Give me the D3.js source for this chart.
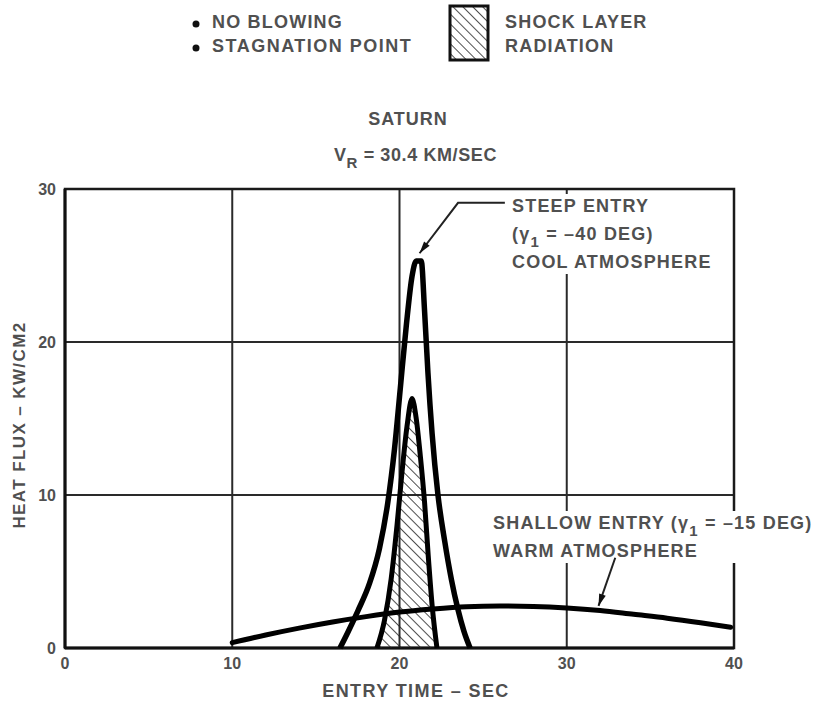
<!DOCTYPE html>
<html>
<head>
<meta charset="utf-8">
<script src="https://cdn.jsdelivr.net/npm/d3@7"></script>
<style>
  body { margin: 0; background: #fff; }
  text { font-family: "Liberation Sans", Arial, sans-serif; fill: #505050; font-weight: bold; }
</style>
</head>
<body>
<div id="chart"></div>
<script>
// axis ticks
var xTicks = [0, 10, 20, 30, 40];
var yTicks = [0, 10, 20, 30];

// shallow entry, warm atmosphere
var shallowTime = [10, 12, 14, 16, 18, 20, 22, 24, 26, 28, 30, 32, 34, 36, 38, 39.8];
var shallowFlux = [0.35, 0.85, 1.3, 1.7, 2.05, 2.35, 2.55, 2.7, 2.75, 2.72, 2.62, 2.45, 2.2, 1.95, 1.65, 1.35];

// steep entry, cool atmosphere (total)
var steepTime = [16.44, 16.9, 17.5, 18.2, 18.8, 19.3, 19.7, 20.05, 20.4, 20.75, 21.0, 21.3, 21.5, 21.7, 21.95, 22.3, 22.7, 23.1, 23.5, 23.85, 24.22];
var steepFlux = [0, 1.0, 2.4, 4.2, 6.5, 9.5, 13, 17, 21, 24.3, 25.3, 25.3, 22, 18, 14, 10, 7, 4.5, 2.5, 1.1, 0];

// shock layer radiation (hatched)
var radTime = [18.65, 19.1, 19.5, 19.85, 20.15, 20.45, 20.75, 21.0, 21.25, 21.5, 21.72, 21.95, 22.24];
var radFlux = [0, 1.8, 4.5, 8, 11.5, 14.5, 16.3, 15, 12.5, 9.5, 6, 2.8, 0];

var width = 827, height = 701;
var svg = d3.select("#chart").append("svg")
    .attr("width", width)
    .attr("height", height);

var x = d3.scaleLinear().domain([0, 40]).range([65, 734]);
var y = d3.scaleLinear().domain([0, 30]).range([648, 189]);

// hatch pattern
svg.append("defs").append("pattern")
    .attr("id", "hatch")
    .attr("patternUnits", "userSpaceOnUse")
    .attr("width", 7).attr("height", 7)
    .attr("patternTransform", "rotate(-45)")
  .append("line")
    .attr("x1", 0).attr("y1", 0).attr("x2", 0).attr("y2", 7)
    .attr("stroke", "#222").attr("stroke-width", 1.6);

// legend
var legend = svg.append("g");
legend.selectAll("circle").data([24, 48]).enter().append("circle")
    .attr("cx", 196).attr("cy", d => d).attr("r", 3.5).attr("fill", "#111");
legend.append("text").attr("x", 212).attr("y", 28).attr("font-size", 18).attr("letter-spacing", 1.2).text("NO BLOWING");
legend.append("text").attr("x", 212).attr("y", 52).attr("font-size", 18).attr("letter-spacing", 1.5).text("STAGNATION POINT");
legend.append("rect").attr("x", 450).attr("y", 6).attr("width", 38).attr("height", 54)
    .attr("fill", "url(#hatch)").attr("stroke", "#111").attr("stroke-width", 3);
legend.append("text").attr("x", 505).attr("y", 28).attr("font-size", 18).attr("letter-spacing", 1.2).text("SHOCK LAYER");
legend.append("text").attr("x", 505).attr("y", 52).attr("font-size", 18).attr("letter-spacing", 1.2).text("RADIATION");

// title
svg.append("text").attr("x", 408).attr("y", 125).attr("text-anchor", "middle")
    .attr("font-size", 18).attr("letter-spacing", 1).text("SATURN");
var vr = svg.append("text").attr("x", 334).attr("y", 161).attr("font-size", 18).attr("letter-spacing", 0.6);
vr.append("tspan").text("V");
vr.append("tspan").attr("dy", 7).attr("font-size", 15).text("R");
vr.append("tspan").attr("dy", -7).text(" = 30.4 KM/SEC");

// grid
var grid = svg.append("g").attr("stroke", "#2a2a2a").attr("stroke-width", 2);
grid.selectAll(".vx").data(xTicks.slice(1, -1)).enter().append("line")
    .attr("x1", d => x(d)).attr("x2", d => x(d))
    .attr("y1", y(0)).attr("y2", y(30));
grid.selectAll(".hy").data(yTicks.slice(1, -1)).enter().append("line")
    .attr("x1", x(0)).attr("x2", x(40))
    .attr("y1", d => y(d)).attr("y2", d => y(d));
svg.append("rect")
    .attr("x", x(0)).attr("y", y(30))
    .attr("width", x(40) - x(0)).attr("height", y(0) - y(30))
    .attr("fill", "none").attr("stroke", "#1a1a1a").attr("stroke-width", 2.5);
svg.append("line").attr("x1", x(0)).attr("x2", x(0)).attr("y1", y(0)).attr("y2", y(30))
    .attr("stroke", "#111").attr("stroke-width", 3);
svg.append("line").attr("x1", x(0)).attr("x2", x(40)).attr("y1", y(0)).attr("y2", y(0))
    .attr("stroke", "#111").attr("stroke-width", 3);

// tick labels
svg.selectAll(".xt").data(xTicks).enter().append("text")
    .attr("x", d => x(d)).attr("y", 669).attr("text-anchor", "middle")
    .attr("font-size", 16).attr("font-weight", "normal").text(d => d);
svg.selectAll(".yt").data(yTicks).enter().append("text")
    .attr("x", 56).attr("y", d => y(d) + 6).attr("text-anchor", "end")
    .attr("font-size", 16).attr("font-weight", "normal").text(d => d);

// axis titles
svg.append("text").attr("x", 416).attr("y", 697).attr("text-anchor", "middle")
    .attr("font-size", 18).attr("letter-spacing", 1.4).text("ENTRY TIME \u2013 SEC");
svg.append("text").attr("transform", "translate(25,425) rotate(-90)").attr("text-anchor", "middle")
    .attr("font-size", 17).attr("letter-spacing", 1.4).text("HEAT FLUX \u2013 KW/CM2");

// curves
var line = d3.line().x(d => x(d[0])).y(d => y(d[1])).curve(d3.curveMonotoneX);
var zip = (a, b) => a.map((d, i) => [d, b[i]]);

svg.append("path").datum(zip(radTime, radFlux))
    .attr("d", line).attr("fill", "url(#hatch)")
    .attr("stroke", "#000").attr("stroke-width", 5).attr("stroke-linejoin", "round");
svg.append("path").datum(zip(steepTime, steepFlux))
    .attr("d", line).attr("fill", "none")
    .attr("stroke", "#000").attr("stroke-width", 5.5).attr("stroke-linejoin", "round");
svg.append("path").datum(zip(shallowTime, shallowFlux))
    .attr("d", line).attr("fill", "none")
    .attr("stroke", "#000").attr("stroke-width", 5).attr("stroke-linecap", "round");

// annotation with a white box behind it
function note(x0, y0, lines, size) {
  var g = svg.append("g");
  var bg = g.append("rect").attr("fill", "#fff");
  var t = g.append("text").attr("font-size", size).attr("letter-spacing", 1.2);
  lines.forEach(function(l, i) {
    var row = t.append("tspan").attr("x", x0).attr("y", y0 + i * 28);
    l.forEach(function(p) {
      var s = row.append("tspan").text(p.t);
      if (p.sub) s.attr("dy", 7).attr("font-size", size - 3);
      if (p.up) s.attr("dy", -7);
    });
  });
  var b = t.node().getBBox();
  bg.attr("x", b.x - 5).attr("y", b.y - 2).attr("width", b.width + 10).attr("height", b.height + 4);
}

note(512, 212, [
  [{t: "STEEP ENTRY"}],
  [{t: "(\u03b3"}, {t: "1", sub: true}, {t: " = \u201340 DEG)", up: true}],
  [{t: "COOL ATMOSPHERE"}]
], 18);

note(493, 529, [
  [{t: "SHALLOW ENTRY ("}, {t: "\u03b3"}, {t: "1", sub: true}, {t: " = \u201315 DEG)", up: true}],
  [{t: "WARM ATMOSPHERE"}]
], 18);

// leaders
var leaderSteep = [[21.2, 25.8], [23.5, 29.1], [26.3, 29.1]];
var leaderShallow = [[32.9, 5.9], [31.9, 2.75]];
var straight = d3.line().x(d => x(d[0])).y(d => y(d[1]));

svg.append("path").datum(leaderSteep).attr("d", straight)
    .attr("fill", "none").attr("stroke", "#222").attr("stroke-width", 2);
svg.append("path").datum(leaderShallow).attr("d", straight)
    .attr("fill", "none").attr("stroke", "#222").attr("stroke-width", 2);

function arrowHead(from, to) {
  var x1 = x(from[0]), y1 = y(from[1]), x2 = x(to[0]), y2 = y(to[1]);
  var a = Math.atan2(y2 - y1, x2 - x1);
  var len = 12, w = 3.5;
  var bx = x2 - len * Math.cos(a), by = y2 - len * Math.sin(a);
  svg.append("path")
    .attr("d", `M${x2},${y2} L${bx + w * Math.sin(a)},${by - w * Math.cos(a)} L${bx - w * Math.sin(a)},${by + w * Math.cos(a)} Z`)
    .attr("fill", "#111");
}
arrowHead(leaderSteep[1], leaderSteep[0]);
arrowHead(leaderShallow[0], leaderShallow[1]);
</script>
</body>
</html>
